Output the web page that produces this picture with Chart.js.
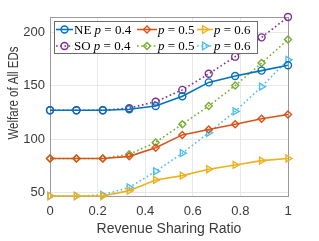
<!DOCTYPE html>
<html><head><meta charset="utf-8">
<script src="https://cdn.jsdelivr.net/npm/chart.js@4/dist/chart.umd.min.js"></script>
<style>html,body{margin:0;padding:0;background:#fff}#wrap{width:319px;height:241px}</style>
</head><body><div id="wrap"><canvas id="c" width="319" height="241"></canvas></div>
<script>
const ratios = [0, 0.111, 0.222, 0.333, 0.444, 0.556, 0.667, 0.778, 0.889, 1];
const ne04 = [127,127,127,128,131,140,153,159,164,169];
const ne05 = [82,82,82,84,92,104,109,114,119,123];
const ne06 = [47,47,47,52,62,66,72,76,80,82];
const so04 = [127,127,127,129,135,146,161,177,195,214];
const so05 = [82,82,82,86,97,114,131,150,171,193];
const so06 = [47,47,48,55,70,87,106,126,149,174];
const xTicks = [0, 0.2, 0.4, 0.6, 0.8, 1];
const yTicks = [50, 100, 150, 200];
const seriesLabels = ["NE p = 0.4", "p = 0.5", "p = 0.6", "SO p = 0.4", "p = 0.5", "p = 0.6"];
const xTitle = "Revenue Sharing Ratio";
const yTitle = "Welfare of All EDs";

const colors = ['#0072BD','#D95319','#EDB120','#7E2F8E','#77AC30','#4DBEEE'];
const styles = ['circle','rectRot','triangle','circle','rectRot','triangle'];
const rots = [0,0,90,0,0,90];
const radii = [3.5,3.5,4,3.5,3.5,4];
const allData = [ne04, ne05, ne06, so04, so05, so06];

const datasets = allData.map((vals, i) => ({
  label: seriesLabels[i],
  data: vals.map((v, j) => ({x: ratios[j], y: v})),
  borderColor: colors[i],
  backgroundColor: 'rgba(0,0,0,0)',
  borderWidth: 1.6,
  borderDash: i >= 3 ? [1.6, 2.6] : [],
  pointStyle: styles[i],
  pointRotation: rots[i],
  pointRadius: radii[i],
  pointBorderWidth: 1.4,
  pointBackgroundColor: 'rgba(0,0,0,0)',
  pointBorderColor: colors[i],
  tension: 0,
  clip: false
}));

function drawMarker(ctx, style, r, rot, x, y, color) {
  ctx.save();
  ctx.strokeStyle = color; ctx.lineWidth = 1.4; ctx.setLineDash([]);
  ctx.translate(x, y); ctx.rotate(rot * Math.PI / 180);
  ctx.beginPath();
  if (style === 'circle') { ctx.arc(0, 0, r, 0, Math.PI * 2); }
  else if (style === 'rectRot') { ctx.moveTo(0,-r); ctx.lineTo(r,0); ctx.lineTo(0,r); ctx.lineTo(-r,0); ctx.closePath(); }
  else { ctx.moveTo(0,-r); ctx.lineTo(r*0.95, r*0.6); ctx.lineTo(-r*0.95, r*0.6); ctx.closePath(); }
  ctx.stroke();
  ctx.restore();
}

const legendPlugin = {
  id: 'mlegend',
  afterDraw(chart) {
    const ctx = chart.ctx;
    ctx.save();
    // y axis title
    ctx.save();
    ctx.translate(14.5, 93);
    ctx.rotate(-Math.PI / 2);
    ctx.scale(1, 1.2);
    ctx.font = '11.5px "Liberation Sans", Arial, sans-serif';
    ctx.fillStyle = '#3a3a3a'; ctx.textAlign = 'center'; ctx.textBaseline = 'middle';
    ctx.fillText(yTitle, 0, 0);
    ctx.restore();

    const bx = 54.5, by = 21.5, bw = 203, bh = 32;
    ctx.fillStyle = '#fff'; ctx.fillRect(bx, by, bw, bh);
    ctx.strokeStyle = '#6b6b6b'; ctx.lineWidth = 1; ctx.strokeRect(bx, by, bw, bh);
    const lineX = [[56, 73], [137, 157], [197, 213]];
    const textX = [74, 158, 214];
    const rowY = [29.5, 46];
    chart.data.datasets.forEach((ds, i) => {
      const col = i % 3, row = Math.floor(i / 3);
      const y = rowY[row];
      ctx.save();
      ctx.strokeStyle = ds.borderColor; ctx.lineWidth = 1.6;
      ctx.setLineDash(ds.borderDash);
      ctx.beginPath(); ctx.moveTo(lineX[col][0], y); ctx.lineTo(lineX[col][1], y); ctx.stroke();
      ctx.restore();
      drawMarker(ctx, ds.pointStyle, ds.pointRadius, ds.pointRotation, (lineX[col][0] + lineX[col][1]) / 2, y, ds.borderColor);
      const label = ds.label;
      const idx = label.indexOf('p');
      const parts = [[label.slice(0, idx), false], ['p', true], [label.slice(idx + 1), false]];
      let x = textX[col];
      ctx.fillStyle = '#000'; ctx.textBaseline = 'middle'; ctx.textAlign = 'left';
      parts.forEach(([t, it]) => {
        if (!t) return;
        ctx.font = (it ? 'italic ' : '') + '13px "Liberation Serif", "DejaVu Serif", serif';
        ctx.fillText(t, x, y + 1);
        x += ctx.measureText(t).width;
      });
    });
    ctx.restore();
  }
};

new Chart(document.getElementById('c'), {
  type: 'line',
  data: { datasets },
  options: {
    responsive: false,
    animation: false,
    devicePixelRatio: 1,
    layout: { padding: { top: 17, right: 31, left: 0, bottom: 0 } },
    plugins: { legend: { display: false }, tooltip: { enabled: false } },
    scales: {
      x: {
        type: 'linear', min: 0, max: 1,
        afterBuildTicks: s => { s.ticks = xTicks.map(v => ({value: v})); },
        afterFit: s => { s.height = 45; },
        ticks: { font: { family: '"Liberation Sans", Arial, sans-serif', size: 13 }, color: '#3a3a3a', padding: 8, maxRotation: 0,
                 callback: v => String(v) },
        grid: { color: '#e8e8e8', tickLength: 0, drawTicks: false },
        border: { color: '#9a9a9a', width: 1 },
        title: { display: true, text: xTitle, font: { family: '"Liberation Sans", Arial, sans-serif', size: 14 }, color: '#3a3a3a', padding: { top: 2, bottom: 3 } }
      },
      y: {
        type: 'linear', min: 47, max: 214,
        afterBuildTicks: s => { s.ticks = yTicks.map(v => ({value: v})); },
        afterFit: s => { s.width = 50; },
        ticks: { font: { family: '"Liberation Sans", Arial, sans-serif', size: 13 }, color: '#3a3a3a', padding: 5 },
        grid: { color: '#e8e8e8', tickLength: 0, drawTicks: false },
        border: { color: '#9a9a9a', width: 1 },
        title: { display: false }
      },
      x2: { position: 'top', type: 'linear', min: 0, max: 1, display: true,
            afterBuildTicks: s => { s.ticks = []; }, afterFit: s => { s.height = 0; },
            grid: { display: false, drawTicks: false }, border: { color: '#9a9a9a', width: 1 }, ticks: { display: false } },
      y2: { position: 'right', type: 'linear', min: 47, max: 214, display: true,
            afterBuildTicks: s => { s.ticks = []; }, afterFit: s => { s.width = 0; },
            grid: { display: false, drawTicks: false }, border: { color: '#9a9a9a', width: 1 }, ticks: { display: false } }
    }
  },
  plugins: [legendPlugin]
});
</script></body></html>
